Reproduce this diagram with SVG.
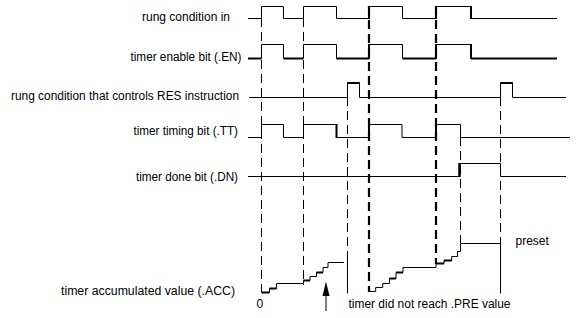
<svg xmlns="http://www.w3.org/2000/svg" width="583" height="318" viewBox="0 0 583 318">
<style>
.bg{fill:#ffffff}
.w{fill:none;stroke:#000;stroke-width:1}
.t{fill:none;stroke:#000;stroke-width:2}
.d{fill:none;stroke:#000;stroke-width:1;stroke-dasharray:9 5}
.dt{fill:none;stroke:#000;stroke-width:2.2;stroke-dasharray:9 5}
.lbl{font-family:"Liberation Sans",Arial,sans-serif;font-size:12px;fill:#000}
</style>
<rect class="bg" x="0" y="0" width="583" height="318"/>

<g id="labels">
<text class="lbl" x="142" y="21" textLength="88" lengthAdjust="spacingAndGlyphs">rung condition in</text>
<text class="lbl" x="130.5" y="61" textLength="111" lengthAdjust="spacingAndGlyphs">timer enable bit (.EN)</text>
<text class="lbl" x="11" y="100" textLength="228" lengthAdjust="spacingAndGlyphs">rung condition that controls RES instruction</text>
<text class="lbl" x="133.5" y="135" textLength="104.5" lengthAdjust="spacingAndGlyphs">timer timing bit (.TT)</text>
<text class="lbl" x="136" y="181" textLength="102" lengthAdjust="spacingAndGlyphs">timer done bit (.DN)</text>
<text class="lbl" x="61" y="295" textLength="174" lengthAdjust="spacingAndGlyphs">timer accumulated value (.ACC)</text>
<text class="lbl" x="256.5" y="307.5">0</text>
<text class="lbl" x="348.5" y="307.5" textLength="162" lengthAdjust="spacingAndGlyphs">timer did not reach .PRE value</text>
<text class="lbl" x="515.5" y="245">preset</text>
</g>

<g id="connectors">
<path class="d" d="M261.5 18 V292"/>
<path class="d" d="M303.5 18 V285"/>
<path class="d" d="M347.5 97 V258"/>
<path class="w" d="M347.5 258 V293.5"/>
<path class="dt" d="M369 6 V292"/>
<path class="dt" d="M436 6 V264"/>
<path class="d" d="M460.5 137 V243"/>
<path class="d" d="M500.5 97 V243"/>
<path class="w" d="M500.5 243 V293.5"/>
</g>

<g id="rung-in">
<path class="w" d="M248 18.5 H261.5 V6.5 H283.5 V18.5 H303.5 V6.5 H336.5 V18.5 H369 V6.5 H402.5 V18.5 H436 V6.5 H471 V18.5 H557"/>
<path class="t" d="M369 6 V19 M436 6 V19 M471 6 V19"/>
</g>

<g id="enable-bit">
<path class="w" d="M261.5 58.5 V44.5 H283.5 V58.5 M303.5 58.5 V44.5 H336.5 V58.5 M369 58.5 V44.5 H402.5 V58.5 M436 58.5 V44.5 H471 V58.5"/>
<path class="t" d="M248 58.5 H261.5 M283.5 58.5 H303.5 M336.5 58.5 H369 M402.5 58.5 H436 M471 58.5 H557 M369 44 V59 M436 44 V59 M471 44 V59"/>
</g>

<g id="res-rung">
<path class="w" d="M249 97.5 H347.5 V82.5 H359.5 V97.5 H500.5 V82.5 H512.5 V97.5 H566"/>
<path class="t" d="M347.5 83 H359.5 M500.5 83 H512.5"/>
</g>

<g id="timing-bit">
<path class="w" d="M248 137.5 H261.5 V124.5 H283.5 V137.5 H303.5 V124.5 H336.5 V137.5 H369 V124.5 H402 V137.5 H436 V124.5 H460.5 V137.5 H570"/>
<path class="t" d="M336.5 124 V138 M369 124 V138 M436 124 V138"/>
</g>

<g id="done-bit">
<path class="w" d="M248 176.5 H459.5 V163.5 H500.5 V176.5 H566"/>
<path class="t" d="M459.5 163 V177" style="stroke-width:2.5"/>
</g>

<g id="accumulated">
<path class="w" d="M261.5 292.5 H269.5 V288.5 H276.5 V283.5 H303.5 V280.5 H310 V276.5 H316.5 V272.5 H323 V267.5 H328 V262.5 H344"/>
<path class="t" d="M261.5 292.5 H269.5 M269.5 288.5 H276.5 M303.5 280.5 H310 M316.5 272.5 H323"/>
<path class="w" d="M369 291.5 H375.7 V287.5 H382.7 V283.5 H389.5 V278.5 H396 V272.5 H403 V267.5 H436 V263.5 H444 V260.5 H451.7 V256.5 H457.5 V251.5 H460.5 V243.5 H500.5"/>
<path class="t" d="M389.5 278.5 H396 M396 272.5 H403 M436 263.5 H444 M444 260.5 H451.7"/>
</g>

<g id="arrow">
<path class="w" d="M326 295 V311"/>
<polygon points="326,281.5 322.5,296 329.5,296" fill="#000"/>
</g>
</svg>
